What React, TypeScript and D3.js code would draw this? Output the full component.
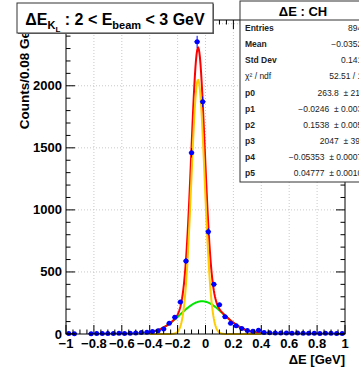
import React from 'react';
import * as d3 from 'd3';

// histogram: 50 bins of 0.04 GeV from -1 to 1
const binLow = -1;
const binWidth = 0.04;
const counts = [
  4, 3, 0, 0, 3, 4, 4, 5, 4, 6, 5, 7, 8, 12, 14,
  20, 27, 40, 86, 134, 258, 588, 1460, 2354, 1871,
  824, 400, 235, 139, 86, 67, 45, 28, 22, 30,
  12, 10, 9, 8, 9, 7, 8, 6, 7, 6, 5, 7, 6, 5, 4,
];

// fit: p0*gaus(p1,p2) + p3*gaus(p4,p5) over [-0.4, 0.4]
const fitPars = [263.8, -0.0246, 0.1538, 2047, -0.05353, 0.04777];
const fitRange = [-0.4, 0.4];

const statLabels = ['Entries', 'Mean', 'Std Dev', 'χ² / ndf', 'p0', 'p1', 'p2', 'p3', 'p4', 'p5'];
const statValues = [
  '8943', '−0.03527', '0.1416', '52.51 / 14',
  '263.8  ± 21.2', '−0.0246  ± 0.0037', '0.1538  ± 0.0059',
  '2047  ± 39.5', '−0.05353  ± 0.00074', '0.04777  ± 0.00104',
];

const W = 359, H = 369;
const m = { left: 66, right: 345, top: 20, bottom: 334 };
const font = '"Liberation Sans", Arial, Helvetica, sans-serif';

const gaus = (x: number, a: number, mu: number, s: number) => a * Math.exp(-0.5 * ((x - mu) / s) ** 2);

const App: React.FC = () => {
  const x = d3.scaleLinear().domain([-1, 1]).range([m.left, m.right]);
  const y = d3.scaleLinear().domain([0, 2530]).range([m.bottom, m.top]);

  const xMajor = x.ticks(10);
  const xMinor = x.ticks(40);
  const yMajor = y.ticks(5);
  const yMinor = y.ticks(25);

  const samples = d3.range(fitRange[0], fitRange[1] + 1e-9, 0.004);
  const [p0, p1, p2, p3, p4, p5] = fitPars;
  const line = d3.line<[number, number]>().x(d => x(d[0])).y(d => y(d[1]));
  const green = line(samples.map(v => [v, gaus(v, p0, p1, p2)]));
  const yellow = line(samples.map(v => [v, gaus(v, p3, p4, p5)]));
  const red = line(samples.map(v => [v, gaus(v, p0, p1, p2) + gaus(v, p3, p4, p5)]));

  const bins = counts.map((c, i) => ({ xc: binLow + binWidth * (i + 0.5), c }));

  const majLen = 9, minLen = 4.5;

  return (
    <svg width={W} height={H} style={{ position: 'absolute', left: 0, top: 0, background: '#fff' }} fontFamily={font}>
      <rect x={0} y={0} width={W} height={H} fill="#fff" />
      {/* grid */}
      {xMajor.filter(v => v > -1 && v < 1).map(v => (
        <line key={'gx' + v} x1={x(v)} x2={x(v)} y1={m.top} y2={m.bottom} stroke="#bbb" strokeWidth={0.8} strokeDasharray="1,2" />
      ))}
      {yMajor.filter(v => v > 0).map(v => (
        <line key={'gy' + v} x1={m.left} x2={m.right} y1={y(v)} y2={y(v)} stroke="#bbb" strokeWidth={0.8} strokeDasharray="1,2" />
      ))}

      {/* fit curves */}
      <path d={green || ''} fill="none" stroke="#00e600" strokeWidth={2} />
      <path d={red || ''} fill="none" stroke="#ff0000" strokeWidth={2} />
      <path d={yellow || ''} fill="none" stroke="#ffcc00" strokeWidth={2} />

      {/* data points */}
      {bins.filter(b => b.c > 0).map((b, i) => {
        const e = Math.sqrt(b.c);
        return (
          <g key={'p' + i} stroke="#0000ff" strokeWidth={1}>
            <line x1={x(b.xc - binWidth / 2)} x2={x(b.xc + binWidth / 2)} y1={y(b.c)} y2={y(b.c)} />
            <line x1={x(b.xc)} x2={x(b.xc)} y1={y(b.c + e)} y2={y(b.c - e)} />
            <circle cx={x(b.xc)} cy={y(b.c)} r={2.5} fill="#0000ff" stroke="none" />
          </g>
        );
      })}

      {/* frame and ticks */}
      <rect x={m.left} y={m.top} width={m.right - m.left} height={m.bottom - m.top} fill="none" stroke="#000" strokeWidth={1} />
      <g stroke="#000" strokeWidth={1}>
        {xMinor.map(v => {
          const len = xMajor.some(t => Math.abs(t - v) < 1e-9) ? majLen : minLen;
          return (
            <g key={'tx' + v}>
              <line x1={x(v)} x2={x(v)} y1={m.bottom} y2={m.bottom - len} />
              <line x1={x(v)} x2={x(v)} y1={m.top} y2={m.top + len} />
            </g>
          );
        })}
        {yMinor.map(v => {
          const len = yMajor.some(t => Math.abs(t - v) < 1e-9) ? majLen : minLen;
          return (
            <g key={'ty' + v}>
              <line x1={m.left} x2={m.left + len} y1={y(v)} y2={y(v)} />
              <line x1={m.right} x2={m.right - len} y1={y(v)} y2={y(v)} />
            </g>
          );
        })}
      </g>

      {/* tick labels */}
      <g fontSize={13} fontWeight="bold" fill="#000">
        {xMajor.map(v => (
          <text key={'lx' + v} x={x(v)} y={348} textAnchor="middle">
            {v === 0 ? '0' : d3.format('.1~f')(v).replace('-', '−')}
          </text>
        ))}
        {yMajor.map(v => (
          <text key={'ly' + v} x={62} y={y(v) + 4.5} textAnchor="end">{v}</text>
        ))}
      </g>

      {/* axis titles */}
      <text x={345} y={364} textAnchor="end" fontSize={13} fontWeight="bold">ΔE [GeV]</text>
      <text transform={`translate(29,22) rotate(-90)`} textAnchor="end" fontSize={13.5} fontWeight="bold">Counts/0.08 GeV</text>

      {/* title box */}
      <rect x={17} y={3} width={196} height={30} fill="#fff" stroke="#333" strokeWidth={1} />
      <line x1={213.5} x2={213.5} y1={4} y2={34} stroke="#555" strokeWidth={1} />
      <line x1={18} x2={214} y1={33.5} y2={33.5} stroke="#555" strokeWidth={1} />
      <text x={115} y={25} textAnchor="middle" fontSize={16} fontWeight="bold">
        ΔE
        <tspan fontSize={11} dy={4}>K</tspan>
        <tspan fontSize={8} dy={3}>L</tspan>
        <tspan dy={-7}>{' : 2 < E'}</tspan>
        <tspan fontSize={11} dy={4}>beam</tspan>
        <tspan dy={-4}>{' < 3 GeV'}</tspan>
      </text>

      {/* stats box */}
      <rect x={240} y={1} width={130} height={181} fill="#fff" stroke="#333" strokeWidth={1} />
      <line x1={240} x2={370} y1={20} y2={20} stroke="#333" strokeWidth={1} />
      <text x={303} y={16} textAnchor="middle" fontSize={13} fontWeight="bold">ΔE : CH</text>
      <g fontSize={8.5} fill="#222">
        {statLabels.map((l, i) => (
          <text key={'sl' + i} x={245} y={28.3 + i * 16.05 + 3} fontWeight={i === 3 ? 'normal' : 'bold'}>{l}</text>
        ))}
        {statValues.map((v, i) => (
          <text key={'sv' + i} x={367} y={28.3 + i * 16.05 + 3} textAnchor="end" style={{ whiteSpace: 'pre' }}>{v}</text>
        ))}
      </g>
    </svg>
  );
};

export default App;
